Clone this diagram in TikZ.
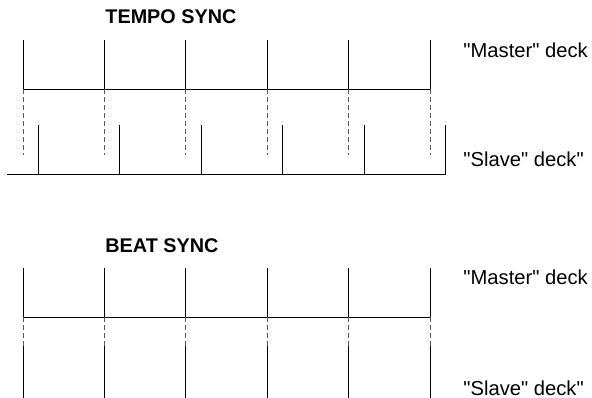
\documentclass[tikz,border=0pt]{standalone}
\usepackage{fontspec}
\setmainfont{Liberation Sans}

\begin{document}
\begin{tikzpicture}[x=1pt, y=-1pt, line width=0.9pt, line cap=butt, line join=miter]

  \tikzset{
    beatline/.style={draw=black},
    syncdash/.style={draw=black!65, dash pattern=on 5pt off 3pt},
    title/.style={anchor=base west, inner sep=0pt, font=\fontsize{19.8}{23}\selectfont\bfseries},
    decklabel/.style={anchor=base west, inner sep=0pt, font=\fontsize{20.2}{24}\selectfont}
  }

  %% ════ TEMPO SYNC ════
  \node[title] (tempotitle) at (105.0,23.5) {TEMPO SYNC};

  %% master: ticks + baseline
  \draw[beatline] (23.0,40.0) -- (23.0,89.0);
  \draw[beatline] (104.3,40.0) -- (104.3,89.0);
  \draw[beatline] (185.7,40.0) -- (185.7,89.0);
  \draw[beatline] (267.0,40.0) -- (267.0,89.0);
  \draw[beatline] (348.5,40.0) -- (348.5,89.0);
  \draw[beatline] (430.0,40.0) -- (430.0,89.0);
  \draw[beatline] (23.0,89.0) -- (430.0,89.0);

  %% dashed guides down to the slave deck
  \draw[syncdash] (23.0,89.0) -- (23.0,155.0);
  \draw[syncdash] (104.3,89.0) -- (104.3,155.0);
  \draw[syncdash] (185.7,89.0) -- (185.7,155.0);
  \draw[syncdash] (267.0,89.0) -- (267.0,155.0);
  \draw[syncdash] (348.5,89.0) -- (348.5,155.0);
  \draw[syncdash] (430.0,89.0) -- (430.0,155.0);

  %% slave: shifted ticks + baseline
  \draw[beatline] (38.0,125.0) -- (38.0,174.0);
  \draw[beatline] (119.5,125.0) -- (119.5,174.0);
  \draw[beatline] (201.0,125.0) -- (201.0,174.0);
  \draw[beatline] (282.5,125.0) -- (282.5,174.0);
  \draw[beatline] (364.0,125.0) -- (364.0,174.0);
  \draw[beatline] (445.5,125.0) -- (445.5,174.0);
  \draw[beatline] (7.0,174.0) -- (445.5,174.0);

  \node[decklabel] (tempomaster) at (463.0,57.3) {\textquotedbl Master\textquotedbl{} deck};
  \node[decklabel] (temposlave) at (463.0,167.0) {\textquotedbl Slave\textquotedbl{} deck\textquotedbl};

  %% ════ BEAT SYNC ════
  \node[title] (beattitle) at (105.0,252.7) {BEAT SYNC};

  %% master: ticks + baseline
  \draw[beatline] (23.0,268.3) -- (23.0,317.3);
  \draw[beatline] (104.3,268.3) -- (104.3,317.3);
  \draw[beatline] (185.7,268.3) -- (185.7,317.3);
  \draw[beatline] (267.0,268.3) -- (267.0,317.3);
  \draw[beatline] (348.5,268.3) -- (348.5,317.3);
  \draw[beatline] (430.0,268.3) -- (430.0,317.3);
  \draw[beatline] (23.0,317.3) -- (430.0,317.3);

  %% dashed guides
  \draw[syncdash] (23.0,317.3) -- (23.0,346.0);
  \draw[syncdash] (104.3,317.3) -- (104.3,346.0);
  \draw[syncdash] (185.7,317.3) -- (185.7,346.0);
  \draw[syncdash] (267.0,317.3) -- (267.0,346.0);
  \draw[syncdash] (348.5,317.3) -- (348.5,346.0);
  \draw[syncdash] (430.0,317.3) -- (430.0,346.0);

  %% slave: ticks aligned with master (cut off by the frame)
  \draw[beatline] (23.0,346.0) -- (23.0,398.0);
  \draw[beatline] (104.3,346.0) -- (104.3,398.0);
  \draw[beatline] (185.7,346.0) -- (185.7,398.0);
  \draw[beatline] (267.0,346.0) -- (267.0,398.0);
  \draw[beatline] (348.5,346.0) -- (348.5,398.0);
  \draw[beatline] (430.0,346.0) -- (430.0,398.0);

  \node[decklabel] (beatmaster) at (463.0,284.0) {\textquotedbl Master\textquotedbl{} deck};
  \node[decklabel] (beatslave) at (463.0,395.0) {\textquotedbl Slave\textquotedbl{} deck\textquotedbl};

  % fix the canvas to the reference size
  \pgfresetboundingbox
  \path[use as bounding box] (0,0) rectangle (592,398);
\end{tikzpicture}
\end{document}
